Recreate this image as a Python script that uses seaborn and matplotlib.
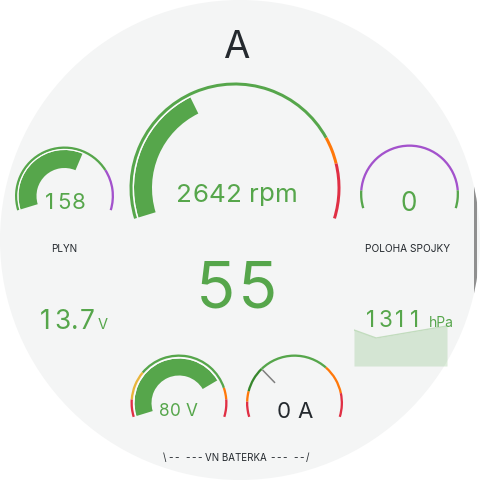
import numpy as np
import pandas as pd
import matplotlib
matplotlib.use('Agg')
import matplotlib.pyplot as plt
from matplotlib.patches import Wedge, Circle, Rectangle
from matplotlib import font_manager
from matplotlib.ft2font import FT2Font
import seaborn as sns

# --- datos del panel ---
titulo = 'A'

otacky = 2642                      # rpm
otacky_min, otacky_max = 0, 7000
otacky_prahy = [0, 5500, 6000]

plyn = 158
plyn_min, plyn_max = 0, 260
plyn_prahy = [0, 200]

spojka = 0
spojka_min, spojka_max = 0, 10
spojka_prahy = [0, 1, 9]

rychlost = 55
napeti_12v = 13.7

tlak = 1311
tlak_cas = [0, 5, 21]
tlak_hodnoty = [1309, 1305, 1311]

vn_napeti = 80
vn_napeti_min, vn_napeti_max = 10, 100
vn_napeti_prahy = [10, 19, 34, 85, 91]

vn_proud = 0
vn_proud_min, vn_proud_max = -50, 120
vn_proud_prahy = [-50, -35, -25, 0, 68, 97]

# --- estilos ---
GREEN = '#56a64b'
ORANGE = '#ff780a'
RED = '#e02f44'
PURPLE = '#a352cc'
YELLOW = '#e8b53b'
DKGREEN = '#37872d'
TXT = '#24292e'
BG = '#f4f5f5'

W = H = 480
START, SPAN = 197.0, 214.0

sns.set_theme(style='white')
plt.rcParams['font.family'] = ['Inter', 'DejaVu Sans']
INTER = font_manager.findfont(font_manager.FontProperties(family='Inter'))


def ang(v, vmin, vmax):
    # escala valor -> angulo del arco
    return START - (v - vmin) / (vmax - vmin) * SPAN


def band(ax, cx, cy, r, width, steps, colors, vmin, vmax):
    edges = list(steps) + [vmax]
    for i, c in enumerate(colors):
        a1 = ang(edges[i + 1], vmin, vmax)
        a2 = ang(edges[i], vmin, vmax)
        ax.add_patch(Wedge((cx, H - cy), r, a1, a2, width=width, color=c, lw=0))


def bar(ax, cx, cy, r_in, r_out, value, vmin, vmax, color=GREEN):
    a1 = ang(value, vmin, vmax)
    a2 = ang(vmin, vmin, vmax)
    ax.add_patch(Wedge((cx, H - cy), r_out, a1, a2, width=r_out - r_in, color=color, lw=0))
    ax.add_patch(Wedge((cx, H - cy), r_out + 0.9, a1, a2, width=0.9, color='white', lw=0))


def tab_text(ax, x, y, s, size, color, ha='center', track=0.0):
    # texto con cifras tabulares (como en el panel original)
    ft = FT2Font(INTER)
    ft.set_size(size, 100)
    adv = [ft.load_char(ord(c)).linearHoriAdvance / 65536 for c in s]
    cell = max(ft.load_char(ord(d)).linearHoriAdvance / 65536 for d in '0123456789')
    widths = [(cell if c.isdigit() else a) + track for c, a in zip(s, adv)]
    total = sum(widths) - track
    x0 = {'left': x, 'center': x - total / 2, 'right': x - total}[ha]
    for c, w in zip(s, widths):
        if c != ' ':
            ax.text(x0 + (w - track) / 2, H - y, c, ha='center', va='baseline',
                    fontsize=size, color=color)
        x0 += w


fig = plt.figure(figsize=(4.8, 4.8), dpi=100)
fig.patch.set_facecolor('white')

# capa de fondo
ax_bg = fig.add_axes([0, 0, 1, 1], zorder=0)
ax_bg.set_xlim(0, W)
ax_bg.set_ylim(0, H)
ax_bg.set_aspect('equal')
ax_bg.axis('off')
disco = Circle((240, 240), 240, color=BG, lw=0)
ax_bg.add_patch(disco)
scroll = Rectangle((473.5, H - 300), 3.5, 120, color='#8f8f8f', lw=0)
ax_bg.add_patch(scroll)
scroll.set_clip_path(disco)

# sparkline de presion
ax_sp = fig.add_axes([354 / W, (H - 366) / H, 93 / W, 44 / H], zorder=1)
ax_sp.patch.set_alpha(0)
df_tlak = pd.DataFrame({'t': tlak_cas, 'p': tlak_hodnoty})
ax_sp.fill_between(df_tlak['t'], df_tlak['p'], 1291, color=GREEN, alpha=0.2, lw=0)
sns.lineplot(data=df_tlak, x='t', y='p', ax=ax_sp, color='#c2dcbe', lw=1)
ax_sp.set_xlim(0, 21)
ax_sp.set_ylim(1291, 1313)
ax_sp.axis('off')

# capa principal
ax = fig.add_axes([0, 0, 1, 1], zorder=2)
ax.patch.set_alpha(0)
ax.set_xlim(0, W)
ax.set_ylim(0, H)
ax.set_aspect('equal')
ax.axis('off')

ax.text(236, H - 58, titulo, ha='center', va='baseline', fontsize=27.5, color=TXT)

# otacky
band(ax, 235, 188, 105.5, 3, otacky_prahy, [GREEN, ORANGE, RED], otacky_min, otacky_max)
bar(ax, 235, 188, 83, 101, otacky, otacky_min, otacky_max)
tab_text(ax, 236.5, 201.5, f'{otacky} rpm', 18.7, GREEN)

# plyn
band(ax, 64.5, 196, 49.5, 2.3, plyn_prahy, [GREEN, PURPLE], plyn_min, plyn_max)
bar(ax, 64.5, 196, 28, 46, plyn, plyn_min, plyn_max)
tab_text(ax, 63.8, 208.7, f'{plyn}', 16, GREEN)
ax.text(64, H - 251.7, 'PLYN', ha='center', va='baseline', fontsize=7.2, color=TXT)

# poloha spojky
band(ax, 409.5, 194, 49.5, 2.3, spojka_prahy, [GREEN, PURPLE, GREEN], spojka_min, spojka_max)
tab_text(ax, 408.5, 210.7, f'{spojka}', 18.8, GREEN)
ax.text(408, H - 251.7, 'POLOHA SPOJKY', ha='center', va='baseline', fontsize=7.3, color=TXT)

# rychlost
tab_text(ax, 236.5, 307, f'{rychlost}', 46.5, GREEN)

# 12 V
tab_text(ax, 36.5, 329.3, f'{napeti_12v}', 19, GREEN, ha='left')
ax.text(98, H - 329.3, 'V', ha='left', va='baseline', fontsize=10.5, color=GREEN)

# tlak
tab_text(ax, 363.5, 327.3, f'{tlak}', 16.2, GREEN, ha='left')
ax.text(428.5, H - 327.3, 'hPa', ha='left', va='baseline', fontsize=10, color=GREEN)

# VN napeti
band(ax, 179, 403, 48.5, 2.3, vn_napeti_prahy, [RED, YELLOW, GREEN, ORANGE, RED],
     vn_napeti_min, vn_napeti_max)
bar(ax, 179, 403, 27.5, 44.5, vn_napeti, vn_napeti_min, vn_napeti_max)
tab_text(ax, 178, 415.7, f'{vn_napeti} V', 12.4, GREEN)

# VN proud
band(ax, 294.5, 403, 48.5, 2.3, vn_proud_prahy, [RED, ORANGE, DKGREEN, GREEN, ORANGE, RED],
     vn_proud_min, vn_proud_max)
a0 = np.deg2rad(ang(vn_proud, vn_proud_min, vn_proud_max))
rr = np.array([28, 46])
ax.plot(294.5 + rr * np.cos(a0), H - 403 + rr * np.sin(a0), color='#808080', lw=1.1,
        solid_capstyle='butt')
tab_text(ax, 294.4, 418.3, f'{vn_proud} A', 16, TXT)

tab_text(ax, 202, 460.7, '\\-- ---', 7, TXT, ha='right', track=1.8)
ax.text(235.5, H - 460.7, 'VN BATERKA', ha='center', va='baseline', fontsize=7, color=TXT)
tab_text(ax, 270, 460.7, '--- --/', 7, TXT, ha='left', track=1.8)

fig.savefig('out.png', dpi=100, facecolor='white')
